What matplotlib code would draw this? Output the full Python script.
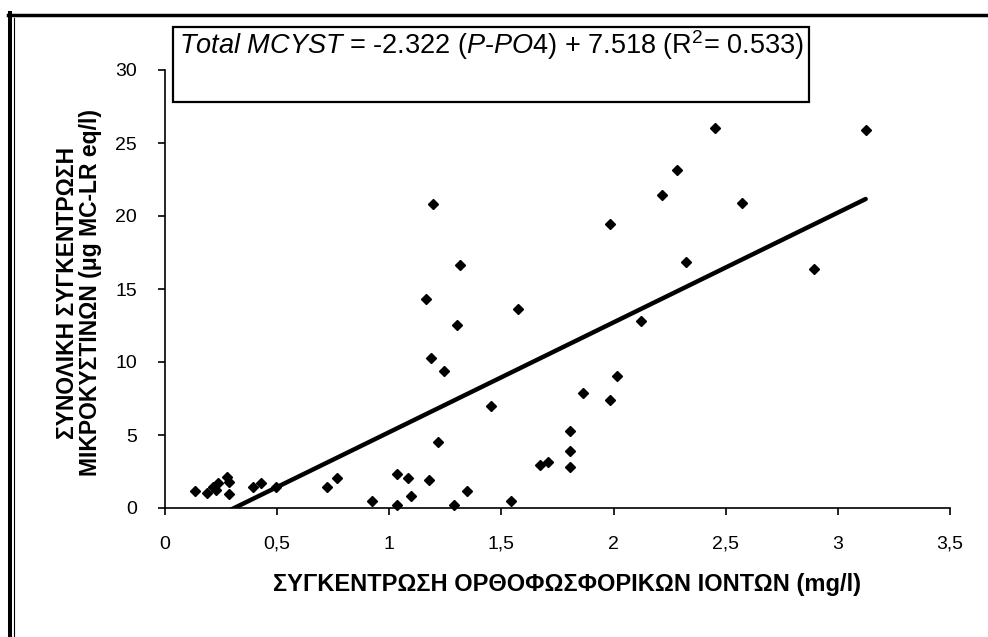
import matplotlib
matplotlib.use('Agg')
import matplotlib.pyplot as plt
from matplotlib.patches import Rectangle
from matplotlib.lines import Line2D
import numpy as np

plt.rcParams['font.family'] = ['Liberation Sans', 'DejaVu Sans']
plt.rcParams['mathtext.fontset'] = 'custom'
plt.rcParams['mathtext.rm'] = 'Liberation Sans'
plt.rcParams['mathtext.it'] = 'Liberation Sans:italic'

# P-PO4 (mg/l) and total microcystin (ug MC-LR eq/l)
po4 = [0.134, 0.186, 0.216, 0.226, 0.235, 0.275, 0.287, 0.284, 0.394, 0.427,
       0.495, 0.724, 0.766, 0.925, 1.035, 1.035, 1.083, 1.096, 1.177, 1.287,
       1.346, 1.544, 1.673, 1.706, 1.215, 1.452, 1.244, 1.186, 1.304, 1.165,
       1.575, 1.315, 1.194, 2.454, 3.124, 2.283, 2.216, 2.573, 1.983, 2.323,
       2.893, 2.124, 2.014, 1.862, 1.983, 1.804, 1.804, 1.804]
mcyst = [1.16, 1.03, 1.44, 1.23, 1.69, 2.10, 1.80, 0.94, 1.44, 1.69,
         1.42, 1.42, 2.05, 0.46, 2.33, 0.20, 2.03, 0.80, 1.92, 0.20,
         1.19, 0.46, 2.97, 3.17, 4.54, 6.96, 9.38, 10.27, 12.53, 14.30,
         13.60, 16.62, 20.84, 26.04, 25.92, 23.17, 21.46, 20.91, 19.43, 16.85,
         16.35, 12.81, 9.03, 7.87, 7.39, 5.24, 3.90, 2.83]

slope = 7.518
intercept = -2.322

xticks = [0, 0.5, 1, 1.5, 2, 2.5, 3, 3.5]
xticklabels = ['0', '0,5', '1', '1,5', '2', '2,5', '3', '3,5']
yticks = [0, 5, 10, 15, 20, 25, 30]

fig = plt.figure(figsize=(9.88, 6.37), dpi=100)
ax = fig.add_axes([165 / 988, 1 - 508 / 637, (950 - 165) / 988, (508 - 70) / 637])

ax.plot(po4, mcyst, 'D', color='black', markersize=5.5, clip_on=False, zorder=3)
xfit = np.array([min(po4), max(po4)])
ax.plot(xfit, slope * xfit + intercept, color='black', linewidth=3.2,
        solid_capstyle='round')

ax.set_xlim(0, 3.5)
ax.set_ylim(0, 30)
ax.set_xticks(xticks)
ax.set_xticklabels(xticklabels)
ax.set_yticks(yticks)
ax.spines['top'].set_visible(False)
ax.spines['right'].set_visible(False)
ax.spines['left'].set_linewidth(1.2)
ax.spines['bottom'].set_linewidth(1.2)
ax.tick_params(direction='out', length=5, width=1.2, labelsize=14, pad=15)

fig.text(567 / 988, 1 - 584 / 637,
         'ΣΥΓΚΕΝΤΡΩΣΗ ΟΡΘΟΦΩΣΦΟΡΙΚΩΝ ΙΟΝΤΩΝ (mg/l)',
         ha='center', va='center', fontsize=17, fontweight='bold')
fig.text(79 / 988, 1 - 293 / 637,
         'ΣΥΝΟΛΙΚΗ ΣΥΓΚΕΝΤΡΩΣΗ\nΜΙΚΡΟΚΥΣΤΙΝΩΝ (μg MC-LR eq/l)',
         ha='center', va='center', rotation=90, fontsize=16.5,
         fontweight='bold', multialignment='center', linespacing=1.05)

# equation box
fig.patches.append(Rectangle((173 / 988, 1 - 102 / 637), 636 / 988, 75 / 637,
                             transform=fig.transFigure, fill=False,
                             edgecolor='black', linewidth=1.6))
fig.text(491 / 988, 1 - 45 / 637,
         r'$\mathit{Total\ MCYST}$ = -2.322 ($\mathit{P}$-$\mathit{PO4}$) + 7.518 (R$^2$= 0.533)',
         ha='center', va='center', fontsize=19.5)

# outer frame (top and left double line)
fig.lines.append(Line2D([8 / 988, 1], [1 - 15 / 637, 1 - 15 / 637],
                        transform=fig.transFigure, color='black', linewidth=2.5))
fig.lines.append(Line2D([10.3 / 988, 10.3 / 988], [1 - 13 / 637, 0],
                        transform=fig.transFigure, color='black', linewidth=2.9))
fig.lines.append(Line2D([14.2 / 988, 14.2 / 988], [1 - 18 / 637, 0],
                        transform=fig.transFigure, color='black', linewidth=0.8))

fig.savefig('out.png', dpi=100)
